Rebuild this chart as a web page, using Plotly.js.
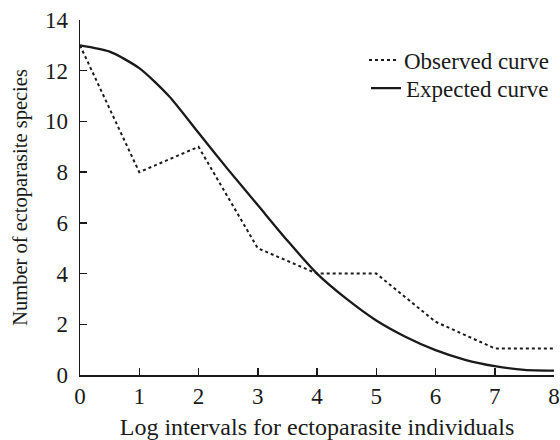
<!DOCTYPE html>
<html>
<head>
<meta charset="utf-8">
<script src="https://cdn.plot.ly/plotly-3.0.1.min.js"></script>
<style>html,body{margin:0;padding:0;background:#fff;}#chart{width:560px;height:440px;}</style>
</head>
<body>
<div id="chart"></div>
<script>
// Observed curve
var obsX = [0, 1, 2, 3, 4, 5, 6, 7, 8];
var obsY = [13, 8, 9, 5, 4, 4, 2.1, 1.05, 1.05];
// Expected curve
var expX = [0, 0.5, 1, 1.5, 2, 2.5, 3, 3.5, 4, 4.5, 5, 5.5, 6, 6.5, 7, 7.5, 8];
var expY = [13, 12.75, 12.1, 11, 9.55, 8.1, 6.7, 5.3, 4.0, 3.0, 2.15, 1.5, 0.98, 0.6, 0.35, 0.2, 0.17];
var xTicks = [0, 1, 2, 3, 4, 5, 6, 7, 8];
var yTicks = [0, 2, 4, 6, 8, 10, 12, 14];

var ink = '#1a1a1a';
var fam = '"Liberation Serif", "Times New Roman", serif';
var font = {family: fam, size: 23, color: ink};

var traces = [
  {x: obsX, y: obsY, mode: 'lines', name: 'Observed curve', legend: 'legend',
   line: {color: ink, width: 2, dash: 'dot'}},
  {x: expX, y: expY, mode: 'lines', name: 'Expected curve', legend: 'legend2',
   line: {color: ink, width: 2.3, shape: 'spline', smoothing: 0.7}}
];

var legBase = {x: 1.0, xanchor: 'right', yanchor: 'middle', bgcolor: 'rgba(0,0,0,0)',
               font: font, itemwidth: 30};

var layout = {
  width: 560, height: 440,
  margin: {l: 80, r: 6, t: 20, b: 65},
  paper_bgcolor: '#fff', plot_bgcolor: '#fff',
  font: font,
  showlegend: true,
  legend: Object.assign({}, legBase, {y: 0.887}),
  legend2: Object.assign({}, legBase, {y: 0.808}),
  xaxis: {range: [0, 8], tickvals: xTicks, ticktext: xTicks.map(String),
          showgrid: false, zeroline: false, showline: true, linecolor: ink, linewidth: 1.5,
          ticks: 'inside', ticklen: 7, tickwidth: 1.5, tickcolor: ink,
          title: {text: 'Log intervals for ectoparasite individuals', font: {family: fam, size: 24, color: ink}, standoff: 15},
          tickfont: font, fixedrange: true},
  yaxis: {range: [0, 14], tickvals: yTicks, ticktext: yTicks.map(String),
          showgrid: false, zeroline: false, showline: true, linecolor: ink, linewidth: 1.5,
          ticks: 'inside', ticklen: 7, tickwidth: 1.5, tickcolor: ink, ticklabelstandoff: 6,
          title: {text: 'Number of ectoparasite species\u00a0\u00a0\u00a0\u00a0\u00a0', font: {family: fam, size: 20.5, color: ink}, standoff: 11},
          tickfont: font, fixedrange: true}
};

Plotly.newPlot('chart', traces, layout, {displayModeBar: false, staticPlot: true});
</script>
</body>
</html>
